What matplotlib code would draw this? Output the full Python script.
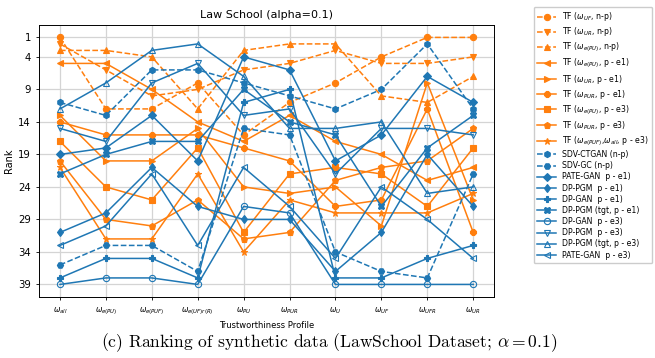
import matplotlib.pyplot as plt

plt.rcParams['mathtext.fontset'] = 'dejavusans'

profiles = [r'$\omega_{all}$', r'$\omega_{e(PU)}$', r'$\omega_{e(PUF)}$', r'$\omega_{e(UF)r(R)}$',
            r'$\omega_{PU}$', r'$\omega_{PUR}$', r'$\omega_{U}$', r'$\omega_{UF}$',
            r'$\omega_{UFR}$', r'$\omega_{UR}$']

# rank of each synthetic dataset under every trustworthiness profile
tf_uf_np = [1, 12, 12, 8, 16, 11, 8, 4, 1, 1]
tf_ur_np = [2, 6, 10, 9, 6, 5, 3, 5, 5, 4]
tf_epu_np = [3, 3, 4, 12, 3, 2, 2, 10, 11, 7]
tf_epu_e1 = [5, 5, 9, 14, 17, 13, 17, 19, 23, 21]
tf_ur_e1 = [13, 20, 20, 15, 24, 25, 24, 30, 8, 26]
tf_pur_e1 = [14, 16, 16, 16, 18, 20, 27, 26, 12, 31]
tf_epu_e3 = [17, 24, 26, 18, 31, 22, 21, 22, 27, 18]
tf_pur_e3 = [20, 29, 30, 26, 32, 31, 23, 21, 20, 15]
tf_epuf_all_e3 = [21, 32, 32, 22, 34, 26, 28, 28, 28, 25]
ctgan_np = [11, 13, 6, 6, 8, 10, 12, 9, 2, 12]
gc_np = [36, 33, 33, 37, 15, 16, 34, 37, 38, 22]
pategan_e1 = [19, 18, 13, 20, 4, 6, 20, 16, 7, 11]
dppgm_e1 = [31, 28, 21, 27, 29, 29, 37, 31, 19, 27]
dpgan_e1 = [38, 35, 35, 38, 11, 9, 38, 38, 35, 33]
dppgm_tgt_e1 = [22, 19, 17, 17, 9, 14, 16, 27, 18, 13]
dpgan_e3 = [39, 38, 38, 39, 27, 28, 39, 39, 39, 39]
dppgm_e3 = [15, 17, 8, 5, 13, 12, 22, 15, 15, 16]
dppgm_tgt_e3 = [12, 8, 3, 2, 7, 15, 15, 14, 25, 24]
pategan_e3 = [33, 30, 22, 33, 21, 27, 35, 24, 29, 35]

orange = '#ff7f0e'
blue = '#1f77b4'

# (ranks, legend label, colour, linestyle, marker, hollow)
series = [
    (tf_uf_np, r'TF ($\omega_{UF}$, n-p)', orange, '--', 'o', False),
    (tf_ur_np, r'TF ($\omega_{UR}$, n-p)', orange, '--', 'v', False),
    (tf_epu_np, r'TF ($\omega_{e(PU)}$, n-p)', orange, '--', '^', False),
    (tf_epu_e1, r'TF ($\omega_{e(PU)}$, p - e1)', orange, '-', '<', False),
    (tf_ur_e1, r'TF ($\omega_{UR}$, p - e1)', orange, '-', '>', False),
    (tf_pur_e1, r'TF ($\omega_{PUR}$, p - e1)', orange, '-', '8', False),
    (tf_epu_e3, r'TF ($\omega_{e(PU)}$, p - e3)', orange, '-', 's', False),
    (tf_pur_e3, r'TF ($\omega_{PUR}$, p - e3)', orange, '-', 'p', False),
    (tf_epuf_all_e3, r'TF ($\omega_{e(PUF)}$,$\omega_{all}$, p - e3)', orange, '-', '*', False),
    (ctgan_np, 'SDV-CTGAN (n-p)', blue, '--', 'h', False),
    (gc_np, 'SDV-GC (n-p)', blue, '--', 'H', False),
    (pategan_e1, 'PATE-GAN  p - e1)', blue, '-', 'D', False),
    (dppgm_e1, 'DP-PGM  p - e1)', blue, '-', 'd', False),
    (dpgan_e1, 'DP-GAN  p - e1)', blue, '-', 'P', False),
    (dppgm_tgt_e1, 'DP-PGM (tgt, p - e1)', blue, '-', 'X', False),
    (dpgan_e3, 'DP-GAN  p - e3)', blue, '-', 'o', True),
    (dppgm_e3, 'DP-PGM  p - e3)', blue, '-', 'v', True),
    (dppgm_tgt_e3, 'DP-PGM (tgt, p - e3)', blue, '-', '^', True),
    (pategan_e3, 'PATE-GAN  p - e3)', blue, '-', '<', True),
]

fig = plt.figure(figsize=(6.55, 3.58), dpi=100)
ax = fig.add_axes([0.060, 0.171, 0.694, 0.759])

x = list(range(len(profiles)))
for ranks, label, color, ls, marker, hollow in series:
    ax.plot(x, ranks, color=color, linestyle=ls, marker=marker, linewidth=1.1,
            markersize=4.5, markerfacecolor='none' if hollow else color,
            markeredgewidth=0.8, label=label)

ax.set_xticks(x)
ax.set_xticklabels(profiles, fontsize=5.5)
ax.set_yticks([1, 4, 9, 14, 19, 24, 29, 34, 39])
ax.tick_params(axis='y', labelsize=7.3)
ax.tick_params(length=2.5, width=0.6)
ax.invert_yaxis()
ax.grid(True, color='#d4d4d4', linewidth=0.9)
ax.set_axisbelow(True)
for sp in ax.spines.values():
    sp.set_linewidth(0.7)

ax.set_title('Law School (alpha=0.1)', fontsize=8, pad=5)
ax.set_xlabel('Trustworthiness Profile', fontsize=6, labelpad=3)
ax.set_ylabel('Rank', fontsize=7, labelpad=3)

ax.legend(loc='upper left', bbox_to_anchor=(0.809, 0.992), bbox_transform=fig.transFigure,
          fontsize=5.6, labelspacing=0.28, handlelength=2.4, borderpad=0.45, framealpha=1,
          edgecolor='#cccccc')

fig.text(0.502, 0.012, r'(c) Ranking of synthetic data (LawSchool Dataset; $\alpha = 0.1$)',
         ha='center', va='bottom', family='cmr10', math_fontfamily='cm', fontsize=12.6)

fig.savefig('out.png', dpi=100)
